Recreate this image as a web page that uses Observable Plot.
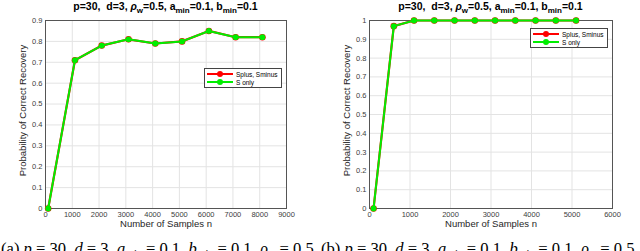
<!DOCTYPE html>
<html>
<head>
<meta charset="utf-8">
<script src="https://cdn.jsdelivr.net/npm/d3@7"></script>
<script src="https://cdn.jsdelivr.net/npm/@observablehq/plot@0.6"></script>
<style>
  html, body { margin: 0; padding: 0; background: #fff; }
  #wrap { position: relative; width: 640px; height: 251px; overflow: hidden; font-family: "Liberation Sans", Arial, sans-serif; }
  .panel { position: absolute; top: 0; width: 320px; height: 251px; overflow: hidden; }
  .title { position: absolute; top: 0px; font-weight: bold; font-size: 10.5px; color: #000; white-space: nowrap; transform: translateX(-50%); line-height: 12px; }
  .title sub { font-size: 8px; vertical-align: -3px; line-height: 0; }
  .legend { position: absolute; background: #fff; border: 1px solid #444; font-size: 6.5px; padding: 1px 3px 1px 2px; }
  .legend .row { display: flex; align-items: center; height: 8px; }
  .legend .sw { position: relative; width: 26px; height: 8px; margin-right: 3px; }
  .legend .sw .ln { position: absolute; left: 0; right: 0; top: 3px; height: 2px; }
  .legend .sw .mk { position: absolute; left: 10px; top: 1px; width: 6px; height: 6px; border-radius: 50%; }
  .caption { position: absolute; top: 240px; left: 1px; font-family: "Liberation Serif", "DejaVu Serif", serif; font-size: 16.6px; white-space: nowrap; color: #000; line-height: 18px; }
  .caption i { font-style: italic; }
  .caption sub { font-size: 11px; vertical-align: -3px; }
</style>
</head>
<body>
<div id="wrap">
  <div class="panel" id="pa"></div>
  <div class="panel" id="pb" style="left:320px"></div>
</div>
<script>
// Panel (a)
const nA = [100, 1100, 2100, 3100, 4100, 5100, 6100, 7100, 8100];
const splusA = [0, 0.71, 0.78, 0.81, 0.79, 0.80, 0.85, 0.82, 0.82];
const sonlyA = [0, 0.71, 0.78, 0.81, 0.79, 0.80, 0.85, 0.82, 0.82];
const xTicksA = [0, 1000, 2000, 3000, 4000, 5000, 6000, 7000, 8000, 9000];
const yTicksA = [0, 0.1, 0.2, 0.3, 0.4, 0.5, 0.6, 0.7, 0.8, 0.9];

// Panel (b)
const nB = [100, 600, 1100, 1600, 2100, 2600, 3100, 3600, 4100, 4600, 5100];
const splusB = [0, 0.97, 1, 1, 1, 1, 1, 1, 1, 1, 1];
const sonlyB = [0, 0.97, 1, 1, 1, 1, 1, 1, 1, 1, 1];
const xTicksB = [0, 1000, 2000, 3000, 4000, 5000, 6000];
const yTicksB = [0, 0.1, 0.2, 0.3, 0.4, 0.5, 0.6, 0.7, 0.8, 0.9, 1];

const seriesNames = ["Splus, Sminus", "S only"];
const seriesColors = ["#ff0000", "#00ee00"];
const xLabel = "Number of Samples n";
const yLabel = "Probability of Correct Recovery";

function makePlot(n, s1, s2, xTicks, yTicks, xMax, yMax, mL, mR) {
  const d1 = n.map((v, i) => ({n: v, p: s1[i]}));
  const d2 = n.map((v, i) => ({n: v, p: s2[i]}));
  return Plot.plot({
    width: 320, height: 232,
    marginLeft: mL, marginRight: mR, marginTop: 20, marginBottom: 24,
    style: {fontFamily: "'Liberation Sans', Arial, sans-serif", fontSize: "7.5px", color: "#404040", background: "#fff"},
    x: {domain: [0, xMax]},
    y: {domain: [0, yMax]},
    marks: [
      Plot.gridX(xTicks, {stroke: "#e3e3e3", strokeOpacity: 1}),
      Plot.gridY(yTicks, {stroke: "#e3e3e3", strokeOpacity: 1}),
      Plot.frame({stroke: "#555", strokeWidth: 1}),
      Plot.axisX(xTicks, {tickSize: 0, tickPadding: 3, label: null, fontSize: 7.5, fill: "#404040", tickFormat: d => String(d)}),
      Plot.axisY(yTicks, {tickSize: 0, tickPadding: 3, label: null, fontSize: 7.5, fill: "#404040", tickFormat: d => String(+d.toFixed(1))}),
      Plot.line(d1, {x: "n", y: "p", stroke: seriesColors[0], strokeWidth: 2.2}),
      Plot.dot(d1, {x: "n", y: "p", r: 3.3, fill: seriesColors[0], stroke: "none"}),
      Plot.line(d2, {x: "n", y: "p", stroke: seriesColors[1], strokeWidth: 2}),
      Plot.dot(d2, {x: "n", y: "p", r: 2.9, fill: seriesColors[1], stroke: "none"}),
      Plot.text([xLabel], {frameAnchor: "bottom", dy: 18.5, text: d => d, fontSize: 9.5, fill: "#262626"}),
      Plot.text([yLabel], {frameAnchor: "left", dx: -23, dy: -4, rotate: -90, textAnchor: "middle", text: d => d, fontSize: 9.5, fill: "#262626"})
    ]
  });
}

function addExtras(panel, centerX, legLeft, legTop, letter) {
  const t = document.createElement("div");
  t.className = "title";
  t.style.left = centerX + "px";
  t.innerHTML = "p=30,&nbsp; d=3, <i>&rho;</i><sub>w</sub>=0.5, a<sub>min</sub>=0.1, b<sub>min</sub>=0.1";
  panel.appendChild(t);

  const lg = document.createElement("div");
  lg.className = "legend";
  lg.style.left = legLeft + "px";
  lg.style.top = legTop + "px";
  seriesNames.forEach((name, i) => {
    const row = document.createElement("div");
    row.className = "row";
    row.innerHTML = `<span class="sw"><span class="ln" style="background:${seriesColors[i]}"></span><span class="mk" style="background:${seriesColors[i]}"></span></span><span>${name}</span>`;
    lg.appendChild(row);
  });
  panel.appendChild(lg);

  const c = document.createElement("div");
  c.className = "caption";
  c.innerHTML = `(${letter}) <i>p</i> = 30, <i>d</i> = 3, <i>a</i><sub><i>min</i></sub> = 0.1, <i>b</i><sub><i>min</i></sub> = 0.1, <i>&rho;</i><sub><i>w</i></sub> = 0.5`;
  panel.appendChild(c);
}

const pa = document.getElementById("pa");
pa.appendChild(makePlot(nA, splusA, sonlyA, xTicksA, yTicksA, 9000, 0.9, 45, 34));
addExtras(pa, 165.5, 204, 68, "a");

const pb = document.getElementById("pb");
pb.appendChild(makePlot(nB, splusB, sonlyB, xTicksB, yTicksB, 6000, 1, 49, 28));
addExtras(pb, 170.5, 210, 28, "b");
</script>
</body>
</html>
